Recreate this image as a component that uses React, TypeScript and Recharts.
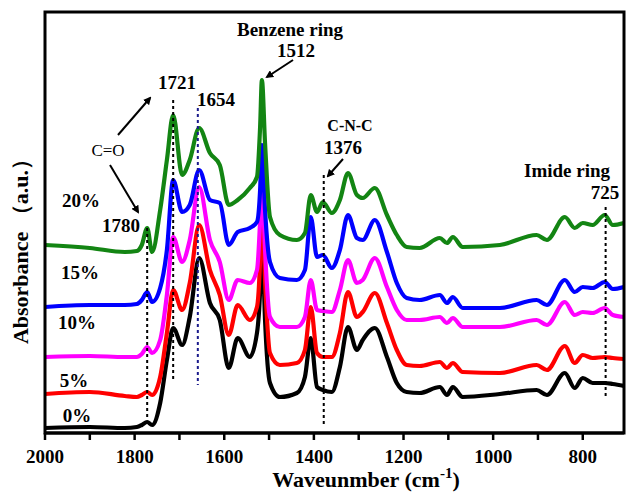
import { Line, LineChart, ReferenceLine, XAxis, YAxis } from "recharts"

// wavenumber grid (cm-1), shared by all spectra
const wavenumbers = [
  2000, 1900, 1822, 1795, 1784, 1772, 1761, 1743, 1728, 1714,
  1694, 1677, 1656, 1632, 1610, 1590, 1570, 1543, 1527, 1520,
  1516, 1509, 1498, 1476, 1438, 1420, 1407, 1393, 1380, 1360,
  1342, 1324, 1304, 1291, 1264, 1237, 1215, 1193, 1164, 1119,
  1103, 1090, 1068, 985, 903, 880, 840, 818, 800, 778,
  751, 733, 708,
]

// absorbance (a.u., already stacked with offsets)
const pi0 = [
  5, 6, 5, 6, 8, 11, 8, 30, 73, 105,
  88, 116, 175, 130, 113, 65, 95, 76, 100, 143,
  203, 113, 50, 36, 40, 56, 95, 46, 43, 41,
  66, 106, 83, 93, 105, 76, 50, 41, 40, 46,
  38, 46, 36, 39, 43, 38, 60, 45, 55, 50,
  50, 49, 47,
]
const pi5 = [
  39, 41, 37, 36, 38, 41, 38, 56, 100, 143,
  123, 150, 208, 163, 138, 98, 128, 113, 126, 173,
  233, 153, 80, 68, 70, 83, 126, 80, 76, 76,
  100, 141, 116, 121, 140, 110, 83, 68, 67, 71,
  65, 70, 61, 60, 68, 63, 87, 70, 78, 75,
  76, 75, 74,
]
const pi10 = [
  76, 77, 76, 76, 79, 86, 80, 93, 138, 196,
  171, 193, 246, 193, 171, 133, 153, 150, 163, 213,
  261, 183, 116, 106, 106, 116, 153, 123, 122, 121,
  143, 173, 150, 153, 175, 146, 123, 113, 113, 116,
  110, 115, 106, 106, 113, 108, 131, 118, 121, 120,
  125, 118, 116,
]
const pi15 = [
  126, 128, 128, 129, 133, 141, 131, 145, 183, 253,
  221, 228, 263, 233, 230, 188, 201, 205, 211, 243,
  288, 223, 171, 155, 153, 163, 216, 176, 178, 165,
  183, 218, 195, 193, 213, 181, 150, 135, 133, 138,
  130, 136, 125, 125, 133, 128, 153, 141, 146, 145,
  151, 144, 146,
]
const pi20 = [
  188, 185, 181, 182, 188, 205, 181, 223, 273, 318,
  258, 273, 305, 280, 268, 228, 233, 245, 256, 306,
  353, 290, 216, 198, 193, 200, 238, 221, 231, 220,
  233, 260, 238, 235, 245, 218, 198, 186, 185, 195,
  190, 196, 186, 188, 198, 193, 216, 205, 210, 208,
  218, 208, 210,
]

const xTicks = [2000, 1900, 1800, 1700, 1600, 1500, 1400, 1300, 1200, 1100, 1000, 900, 800]

const series = [
  { name: "0%", values: pi0, color: "#000000" },
  { name: "5%", values: pi5, color: "#ff0000" },
  { name: "10%", values: pi10, color: "#ff00ff" },
  { name: "15%", values: pi15, color: "#0000ff" },
  { name: "20%", values: pi20, color: "#138513" },
]

// marker lines: [wavenumber, from, to, colour]
const markers: [number, number, number, string][] = [
  [1772, 205, 13, "#000"],
  [1714, 333, 53, "#000"],
  [1659, 325, 48, "#1a1a8c"],
  [1378, 258, 6, "#000"],
  [749, 226, 36, "#000"],
]

const serif = "'Liberation Serif', 'Times New Roman', serif"

const toData = (values: number[]) => wavenumbers.map((w, i) => ({ w, v: values[i] }))

export default function App() {
  return (
    <div style={{ position: "absolute", left: 0, top: 0, width: 626, height: 492, background: "#fff" }}>
      <LineChart width={626} height={492} margin={{ top: 12, right: 2, left: 45, bottom: 29 }}>
        <XAxis
          dataKey="w"
          type="number"
          domain={[708, 2000]}
          reversed
          ticks={xTicks}
          tickFormatter={(v) => (v % 200 === 0 ? String(v) : "")}
          tickSize={7}
          tickMargin={10}
          height={30}
          stroke="#000"
          axisLine={{ strokeWidth: 3 }}
          tickLine={{ strokeWidth: 2.5 }}
          tick={{ fill: "#000", fontSize: 19, fontWeight: 700, fontFamily: serif }}
          allowDataOverflow
        />
        <YAxis type="number" domain={[0, 421]} hide />
        {series.map((s) => (
          <Line
            key={s.name}
            data={toData(s.values)}
            dataKey="v"
            type="monotone"
            stroke={s.color}
            strokeWidth={4.2}
            strokeLinejoin="round"
            dot={false}
            isAnimationActive={false}
          />
        ))}
        {markers.map(([x, y1, y2, c]) => (
          <ReferenceLine
            key={x}
            segment={[{ x, y: y1 }, { x, y: y2 }]}
            stroke={c}
            strokeWidth={2}
            strokeDasharray="3 3"
          />
        ))}
      </LineChart>
      <svg
        width={626}
        height={492}
        style={{ position: "absolute", left: 0, top: 0, pointerEvents: "none" }}
        fontFamily={serif}
        fontWeight={700}
      >
        <defs>
          <marker id="ah" markerWidth="8" markerHeight="8" refX="6" refY="4" orient="auto" markerUnits="userSpaceOnUse">
            <path d="M0,0 L8,4 L0,8 z" fill="#000" />
          </marker>
        </defs>
        <rect x={45} y={12} width={579} height={421} fill="none" stroke="#000" strokeWidth={3} />
        <g fontSize={19} textAnchor="middle" fill="#000">
          <text x={81} y={207}>20%</text>
          <text x={80} y={279}>15%</text>
          <text x={77} y={329}>10%</text>
          <text x={74} y={387}>5%</text>
          <text x={77} y={422}>0%</text>
          <text x={121} y={232}>1780</text>
          <text x={177} y={89}>1721</text>
          <text x={216} y={106}>1654</text>
          <text x={290} y={36}>Benzene ring</text>
          <text x={296} y={57}>1512</text>
          <text x={343} y={154}>1376</text>
          <text x={567} y={177}>Imide ring</text>
          <text x={605} y={199}>725</text>
        </g>
        <text x={108} y={156} fontSize={17} fontWeight={400} textAnchor="middle">C=O</text>
        <text x={350} y={131} fontSize={16} textAnchor="middle">C-N-C</text>
        <g stroke="#000" strokeWidth={2} markerEnd="url(#ah)">
          <line x1={118} y1={135} x2={150} y2={98} />
          <line x1={110} y1={165} x2={138} y2={212} />
          <line x1={293} y1={60} x2={267} y2={77} />
          <line x1={343} y1={159} x2={328} y2={176} />
        </g>
        <text x={366} y={487} fontSize={22} textAnchor="middle">
          Waveunmber (cm<tspan dy={-9} fontSize={15}>-1</tspan>
          <tspan dy={9}>)</tspan>
        </text>
        <text x={28} y={246} fontSize={22} textAnchor="middle" transform="rotate(-90 28 246)">
          Absorbance （a.u.）
        </text>
      </svg>
    </div>
  )
}
